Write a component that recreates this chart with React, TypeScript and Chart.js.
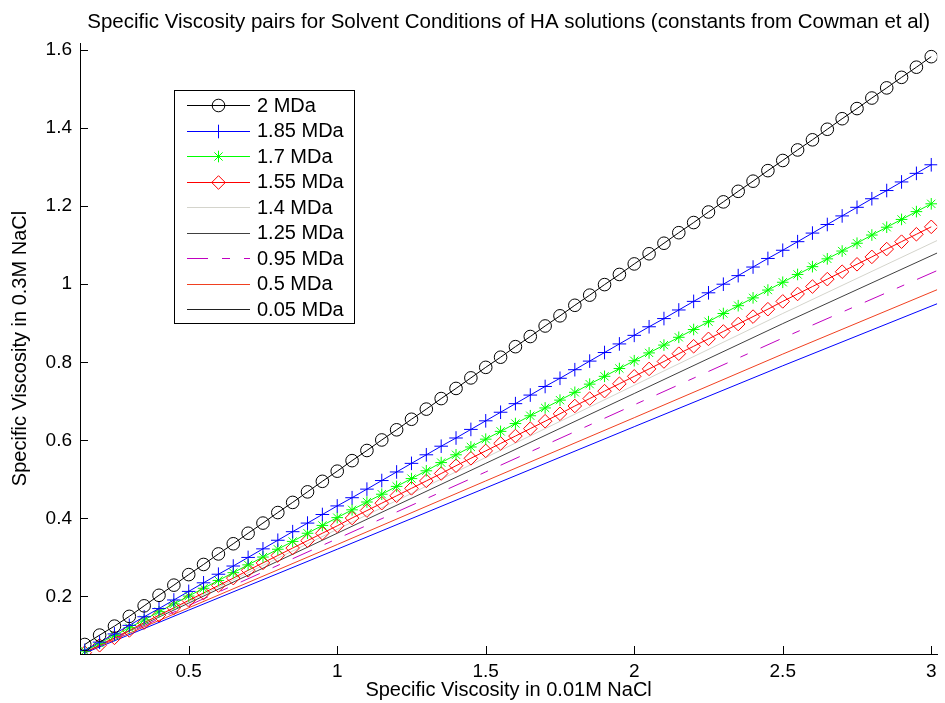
import React, { useEffect, useRef } from 'react';
import { Chart, registerables } from 'chart.js';
import { drawPoint } from 'chart.js/helpers';

Chart.register(...registerables);

const titleText = 'Specific Viscosity pairs for Solvent Conditions of HA solutions (constants from Cowman et al)';
const xLabel = 'Specific Viscosity in 0.01M NaCl';
const yLabel = 'Specific Viscosity in 0.3M NaCl';

const xTicks = [0.5, 1, 1.5, 2, 2.5, 3];
const yTicks = [0.2, 0.4, 0.6, 0.8, 1, 1.2, 1.4, 1.6];

// x positions shared by the marker series
const xMarked = [
  0.15, 0.2, 0.25, 0.3, 0.35, 0.4, 0.45, 0.5, 0.55, 0.6,
  0.65, 0.7, 0.75, 0.8, 0.85, 0.9, 0.95, 1.0, 1.05, 1.1,
  1.15, 1.2, 1.25, 1.3, 1.35, 1.4, 1.45, 1.5, 1.55, 1.6,
  1.65, 1.7, 1.75, 1.8, 1.85, 1.9, 1.95, 2.0, 2.05, 2.1,
  2.15, 2.2, 2.25, 2.3, 2.35, 2.4, 2.45, 2.5, 2.55, 2.6,
  2.65, 2.7, 2.75, 2.8, 2.85, 2.9, 2.95, 3.0,
];
// x positions for the plain line series
const xPlain = [0.15, 0.5, 1.0, 1.5, 2.0, 2.5, 3.02];

const y2MDa = [
  0.077, 0.101, 0.124, 0.149, 0.176, 0.203, 0.229, 0.256, 0.282, 0.309,
  0.335, 0.362, 0.388, 0.415, 0.441, 0.468, 0.495, 0.521, 0.548, 0.574,
  0.601, 0.627, 0.654, 0.680, 0.707, 0.733, 0.760, 0.787, 0.813, 0.840,
  0.866, 0.893, 0.919, 0.946, 0.972, 0.999, 1.025, 1.052, 1.078, 1.105,
  1.132, 1.158, 1.185, 1.211, 1.238, 1.264, 1.291, 1.317, 1.344, 1.370,
  1.397, 1.424, 1.450, 1.477, 1.503, 1.530, 1.556, 1.583,
];
const y185MDa = [
  0.062, 0.083, 0.104, 0.126, 0.148, 0.169, 0.191, 0.213, 0.235, 0.257,
  0.278, 0.300, 0.322, 0.344, 0.366, 0.388, 0.410, 0.432, 0.453, 0.475,
  0.497, 0.519, 0.541, 0.563, 0.585, 0.606, 0.628, 0.650, 0.672, 0.694,
  0.716, 0.738, 0.759, 0.781, 0.803, 0.825, 0.847, 0.869, 0.891, 0.912,
  0.934, 0.956, 0.978, 1.000, 1.022, 1.044, 1.066, 1.087, 1.109, 1.131,
  1.153, 1.175, 1.197, 1.219, 1.240, 1.262, 1.284, 1.306,
];
const y17MDa = [
  0.060, 0.080, 0.100, 0.120, 0.140, 0.161, 0.181, 0.201, 0.221, 0.241,
  0.261, 0.281, 0.301, 0.321, 0.341, 0.362, 0.382, 0.402, 0.422, 0.442,
  0.462, 0.482, 0.502, 0.522, 0.543, 0.563, 0.583, 0.603, 0.623, 0.643,
  0.663, 0.683, 0.703, 0.723, 0.744, 0.764, 0.784, 0.804, 0.824, 0.844,
  0.864, 0.884, 0.904, 0.925, 0.945, 0.965, 0.985, 1.005, 1.025, 1.045,
  1.065, 1.085, 1.105, 1.126, 1.146, 1.166, 1.186, 1.206,
];
const y155MDa = [
  0.056, 0.075, 0.094, 0.113, 0.133, 0.152, 0.171, 0.190, 0.209, 0.228,
  0.247, 0.267, 0.286, 0.305, 0.324, 0.343, 0.362, 0.381, 0.401, 0.420,
  0.439, 0.458, 0.477, 0.496, 0.515, 0.535, 0.554, 0.573, 0.592, 0.611,
  0.630, 0.649, 0.668, 0.688, 0.707, 0.726, 0.745, 0.764, 0.783, 0.802,
  0.822, 0.841, 0.860, 0.879, 0.898, 0.917, 0.936, 0.956, 0.975, 0.994,
  1.013, 1.032, 1.051, 1.070, 1.090, 1.109, 1.128, 1.147,
];
const y14MDa = [0.058, 0.187, 0.372, 0.556, 0.741, 0.925, 1.112];
const y125MDa = [0.058, 0.183, 0.362, 0.541, 0.720, 0.899, 1.080];
const y095MDa = [0.057, 0.177, 0.348, 0.519, 0.691, 0.862, 1.035];
const y05MDa = [0.057, 0.171, 0.333, 0.496, 0.658, 0.821, 0.986];
const y005MDa = [0.055, 0.165, 0.321, 0.478, 0.635, 0.791, 0.950];

const seriesLabels = ['2 MDa', '1.85 MDa', '1.7 MDa', '1.55 MDa', '1.4 MDa', '1.25 MDa', '0.95 MDa', '0.5 MDa', '0.05 MDa'];

const FONT = '"Liberation Sans", Arial, Helvetica, sans-serif';
const none = 'rgba(0,0,0,0)';

const pts = (xs: number[], ys: number[]) => xs.map((x, i) => ({ x, y: ys[i] }));

const legendColors = ['#000000', '#0000ff', '#00ff00', '#ff0000', '#d4d4cc', '#404040', '#c000c0', '#f04020', '#202020'];

const matlabPlugin = {
  id: 'matlabDecor',
  afterDraw(chart: any) {
    const ctx = chart.ctx as CanvasRenderingContext2D;
    const { left, right, bottom } = chart.chartArea;
    const xs = chart.scales.x;
    const ys = chart.scales.y;
    ctx.save();
    ctx.strokeStyle = '#000';
    ctx.lineWidth = 1;
    ctx.setLineDash([]);
    xTicks.forEach((v) => {
      const px = Math.round(xs.getPixelForValue(v)) + 0.5;
      ctx.beginPath();
      ctx.moveTo(px, bottom);
      ctx.lineTo(px, bottom - 8);
      ctx.stroke();
    });
    yTicks.forEach((v) => {
      const py = Math.round(ys.getPixelForValue(v)) + 0.5;
      ctx.beginPath();
      ctx.moveTo(left, py);
      ctx.lineTo(left + 8, py);
      ctx.stroke();
    });

    // title
    ctx.fillStyle = '#000';
    ctx.font = `20.5px ${FONT}`;
    ctx.textAlign = 'center';
    ctx.textBaseline = 'middle';
    ctx.fillText(titleText, (left + right) / 2, 22);

    // legend
    const bx = 174, by = 90, bw = 180, rowH = 25.5, first = 105;
    const n = chart.data.datasets.length;
    const bh = (first - by) + (n - 1) * rowH + 14;
    ctx.fillStyle = '#fff';
    ctx.fillRect(bx, by, bw, bh);
    ctx.strokeStyle = '#000';
    ctx.strokeRect(bx + 0.5, by + 0.5, bw, bh);
    chart.data.datasets.forEach((ds: any, i: number) => {
      const y = first + i * rowH;
      ctx.save();
      ctx.strokeStyle = legendColors[i];
      ctx.lineWidth = 1;
      ctx.setLineDash(ds.borderDash || []);
      ctx.beginPath();
      ctx.moveTo(187, Math.round(y) + 0.5);
      ctx.lineTo(250, Math.round(y) + 0.5);
      ctx.stroke();
      ctx.setLineDash([]);
      if (ds.pointRadius > 0) {
        ctx.fillStyle = none;
        ctx.strokeStyle = ds.pointBorderColor;
        ctx.lineWidth = 1;
        drawPoint(ctx, { pointStyle: ds.pointStyle, rotation: 0, radius: ds.pointRadius, borderWidth: 1 } as any, 218.5, Math.round(y) + 0.5);
      }
      ctx.restore();
      ctx.fillStyle = '#000';
      ctx.font = `20px ${FONT}`;
      ctx.textAlign = 'left';
      ctx.textBaseline = 'middle';
      ctx.fillText(seriesLabels[i], 257, y + 1);
    });
    ctx.restore();
  },
};

export default function App() {
  const ref = useRef<HTMLCanvasElement | null>(null);

  useEffect(() => {
    document.body.style.margin = '0';
    const canvas = ref.current;
    if (!canvas) return;
    const mk = (label: string, xsArr: number[], ysArr: number[], color: string, extra: any = {}) => ({
      label,
      data: pts(xsArr, ysArr),
      borderColor: color,
      backgroundColor: none,
      borderWidth: 1,
      tension: 0,
      pointRadius: 0,
      pointHoverRadius: 0,
      pointBorderColor: color,
      pointBackgroundColor: none,
      pointBorderWidth: 1,
      ...extra,
    });
    const ordered: any[] = [
      mk(seriesLabels[0], xMarked, y2MDa, '#000000', { pointStyle: 'circle', pointRadius: 6.3 }),
      mk(seriesLabels[1], xMarked, y185MDa, '#0000ff', { pointStyle: 'cross', pointRadius: 6.8 }),
      mk(seriesLabels[2], xMarked, y17MDa, '#00ff00', { pointStyle: 'star', pointRadius: 5.8 }),
      mk(seriesLabels[3], xMarked, y155MDa, '#ff0000', { pointStyle: 'rectRot', pointRadius: 6.8 }),
      mk(seriesLabels[4], xPlain, y14MDa, '#d4d4cc'),
      mk(seriesLabels[5], xPlain, y125MDa, '#404040'),
      mk(seriesLabels[6], xPlain, y095MDa, '#c000c0', { borderDash: [21, 14, 8, 14] }),
      mk(seriesLabels[7], xPlain, y05MDa, '#f04020'),
      mk(seriesLabels[8], xPlain, y005MDa, '#0000ff'),
    ];
    ordered.forEach((d: any, i: number) => { d.order = i; });

    const tickFont = { family: FONT, size: 19 };
    const labelFont = { family: FONT, size: 20 };
    const chart = new Chart(canvas, {
      type: 'line',
      data: { datasets: ordered as any },
      plugins: [matlabPlugin],
      options: {
        animation: false,
        responsive: false,
        maintainAspectRatio: false,
        layout: { padding: { top: 43, right: 5, left: 0, bottom: 0 } },
        plugins: { legend: { display: false }, title: { display: false }, tooltip: { enabled: false } },
        events: [],
        scales: {
          x: {
            type: 'linear',
            min: 0.134,
            max: 3.02,
            afterBuildTicks: (s: any) => { s.ticks = xTicks.map((v) => ({ value: v })); },
            afterFit: (s: any) => { s.height = 49; },
            grid: { drawOnChartArea: false, drawTicks: false },
            border: { display: true, color: '#000', width: 1 },
            ticks: { color: '#000', font: tickFont, padding: 6, maxRotation: 0, autoSkip: false, callback: (v: any) => String(v) },
            title: { display: true, text: xLabel, color: '#000', font: labelFont, padding: { top: 0, bottom: 1 } },
          },
          y: {
            type: 'linear',
            min: 0.0526,
            max: 1.618,
            afterBuildTicks: (s: any) => { s.ticks = yTicks.map((v) => ({ value: v })); },
            afterFit: (s: any) => { s.width = 80; },
            grid: { drawOnChartArea: false, drawTicks: false },
            border: { display: true, color: '#000', width: 1 },
            ticks: { color: '#000', font: tickFont, padding: 8, autoSkip: false, callback: (v: any) => String(v) },
            title: { display: true, text: yLabel, color: '#000', font: labelFont, padding: { top: 8, bottom: 0 } },
          },
        },
      } as any,
    });
    return () => chart.destroy();
  }, []);

  return (
    <div style={{ position: 'absolute', left: 0, top: 0, width: 945, height: 703, background: '#fff' }}>
      <canvas ref={ref} width={945} height={703} style={{ display: 'block', width: 945, height: 703 }} />
    </div>
  );
}
